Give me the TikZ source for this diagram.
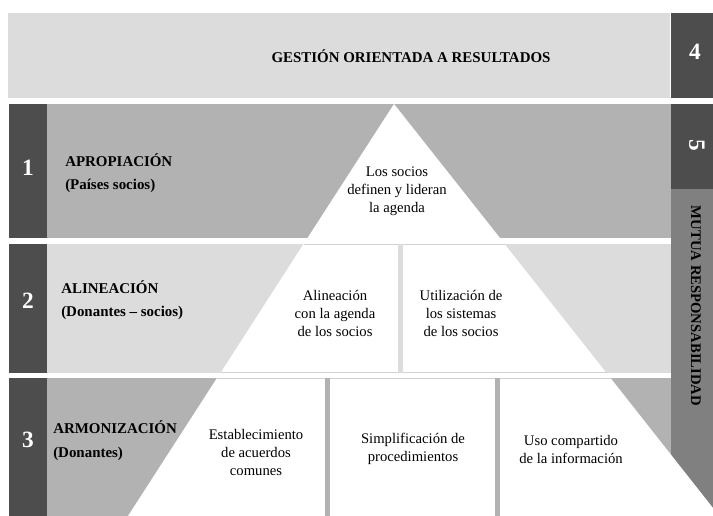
\documentclass[tikz,border=0pt]{standalone}
\usepackage{fontspec}
\setmainfont{Liberation Serif}
\usepackage{xcolor}

\definecolor{lightband}{HTML}{DCDCDC}
\definecolor{midband}{HTML}{B2B2B2}
\definecolor{darkbox}{HTML}{4D4D4D}
\definecolor{sidebar}{HTML}{808080}

\begin{document}
\begin{tikzpicture}[x=0.75pt, y=-0.75pt,
    num/.style={font=\bfseries\fontsize{17.5}{19}\selectfont, text=white},
    rowtitle/.style={font=\bfseries\fontsize{11.2}{13}\selectfont, anchor=west, inner sep=0pt},
    cell/.style={font=\fontsize{11}{13.5}\selectfont, align=center}]
    \useasboundingbox (0,0) rectangle (713,516);

    % Band for results
    \fill[lightband] (8,13) rectangle (670,98);
    \fill[darkbox] (671,13) rectangle (713,98);

    % Rows of the pyramid
    \fill[darkbox] (9,104) rectangle (47,238);
    \fill[midband] (47,104) rectangle (671,238);
    \fill[darkbox] (9,244) rectangle (47,373);
    \fill[lightband] (47,244) rectangle (671,373);
    \fill[darkbox] (9,378) rectangle (47,516);
    \fill[midband] (47,378) rectangle (671,516);

    % Column for mutual accountability
    \fill[darkbox] (671,104) rectangle (713,189);
    \fill[sidebar] (671,189) rectangle (713,516);

    % Pyramid
    \fill[white] (394,104) -- (500,238) -- (307.5,238) -- cycle;
    \fill[white] (303.5,244) -- (504.5,244) -- (606.5,373) -- (220.5,373) -- cycle;
    \fill[white] (217,378) -- (610.5,378) -- (713,508) -- (713,516) -- (128,516) -- cycle;
    \draw[black!18, line width=0.4pt] (303.5,244.3) -- (504.5,244.3);
    \draw[black!18, line width=0.4pt] (220.5,372.7) -- (606.5,372.7);
    \draw[black!18, line width=0.4pt] (217,378.3) -- (610.5,378.3);

    % Dividers
    \fill[lightband] (398,244) rectangle (403,373);
    \fill[midband] (325,378) rectangle (330,516);
    \fill[midband] (495,378) rectangle (500,516);

    % Labels
    \node[font=\bfseries\fontsize{11.2}{13}\selectfont] (gestion) at (411,56) {GESTIÓN ORIENTADA A RESULTADOS};
    \node[num] (n4) at (695,52) {4};
    \node[num, rotate=-90] (n5) at (697,145) {5};
    \node[font=\bfseries\fontsize{11}{13}\selectfont, rotate=-90] (mutua) at (696,306) {MUTUA RESPONSABILIDAD};

    \node[num] (n1) at (28,168) {1};
    \node[num] (n2) at (28,301) {2};
    \node[num] (n3) at (28,440) {3};

    \node[rowtitle] (apropiacion) at (65,160) {APROPIACIÓN};
    \node[rowtitle] (paises) at (65,186) {(Países socios)};
    \node[rowtitle] (alineacion) at (61,287) {ALINEACIÓN};
    \node[rowtitle] (donsocios) at (61,313) {(Donantes – socios)};
    \node[rowtitle] (armonizacion) at (53,427) {ARMONIZACIÓN};
    \node[rowtitle] (donantes) at (53,454) {(Donantes)};

    \node[cell] (lideran) at (397,191) {Los socios\\definen y lideran\\la agenda};
    \node[cell] (agenda) at (335,313) {Alineación\\con la agenda\\de los socios};
    \node[cell] (sistemas) at (461,313) {Utilización de\\los sistemas\\de los socios};
    \node[cell] (acuerdos) at (256,452) {Establecimiento\\de acuerdos\\comunes};
    \node[cell] (simplif) at (413,449) {Simplificación de\\procedimientos};
    \node[cell] (informacion) at (571,449) {Uso compartido\\de la información};
\end{tikzpicture}
\end{document}
